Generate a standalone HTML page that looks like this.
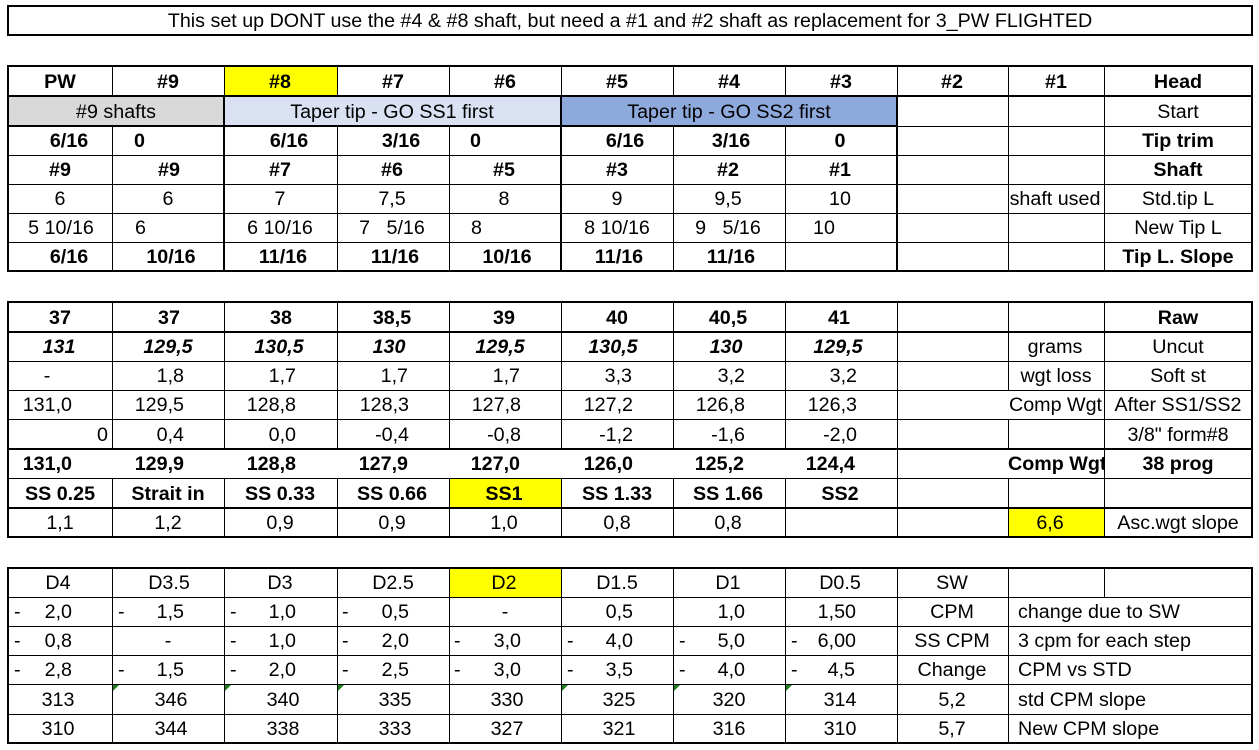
<!DOCTYPE html>
<html>
<head>
<meta charset="utf-8">
<style>
html,body{margin:0;padding:0;background:#fff;}
#w{position:relative;width:1259px;height:750px;overflow:hidden;background:#fff;font-family:"Liberation Sans",Arial,sans-serif;font-size:19.7px;color:#000;}
#w div{position:absolute;}
.h{background:#000;height:1px;}
.H{background:#000;height:2px;}
.v{background:#000;width:1px;}
.V{background:#000;width:2px;}
.c{width:300px;text-align:center;white-space:pre;}
.r{width:300px;text-align:right;white-space:pre;}
.l{white-space:pre;}
.b{font-weight:bold;}
.i{font-style:italic;}
.a1{top:67px;line-height:30px;height:30px}
.a2{top:97px;line-height:30px;height:30px}
.a3{top:127px;line-height:29px;height:29px}
.a4{top:156px;line-height:29px;height:29px}
.a5{top:185px;line-height:29px;height:29px}
.a6{top:214px;line-height:29px;height:29px}
.a7{top:243px;line-height:29px;height:29px}
.b1{top:303px;line-height:30px;height:30px}
.b2{top:333px;line-height:29px;height:29px}
.b3{top:362px;line-height:29px;height:29px}
.b4{top:391px;line-height:29px;height:29px}
.b5{top:420px;line-height:30px;height:30px}
.b6{top:450px;line-height:29px;height:29px}
.b7{top:479px;line-height:30px;height:30px}
.b8{top:509px;line-height:29px;height:29px}
.d1{top:569px;line-height:29px;height:29px}
.d2{top:598px;line-height:29px;height:29px}
.d3{top:627px;line-height:29px;height:29px}
.d4{top:656px;line-height:29px;height:29px}
.d5{top:685px;line-height:30px;height:30px}
.d6{top:715px;line-height:29px;height:29px}
.tri{width:0;height:0;border-top:6px solid #1f7f1f;border-right:6px solid transparent;}
</style>
</head>
<body>
<div id="w">

<!-- Title -->
<div style="left:7px;top:5px;width:1246px;height:31px;border:2px solid #000;box-sizing:border-box;"></div>
<div style="left:8px;top:7px;width:1244px;line-height:29px;text-align:center;white-space:pre;">This set up DONT use the #4 &amp; #8 shaft, but need a #1 and #2 shaft as replacement for 3_PW FLIGHTED</div>

<!-- ===== TABLE 1 backgrounds ===== -->
<div style="left:224px;top:66px;width:113px;height:30px;background:#ffff00;"></div>
<div style="left:8px;top:96px;width:216px;height:30px;background:#d9d9d9;"></div>
<div style="left:224px;top:96px;width:337px;height:30px;background:#d9e1f2;"></div>
<div style="left:561px;top:96px;width:336px;height:30px;background:#8ea9db;"></div>

<!-- Table 1 horizontal lines -->
<div class="H" style="left:7px;top:65px;width:1246px;"></div>
<div class="H" style="left:7px;top:95px;width:1246px;"></div>
<div class="H" style="left:7px;top:125px;width:891px;"></div>
<div class="h" style="left:897px;top:126px;width:355px;"></div>
<div class="h" style="left:8px;top:155px;width:1244px;"></div>
<div class="h" style="left:8px;top:184px;width:1244px;"></div>
<div class="h" style="left:8px;top:213px;width:1244px;"></div>
<div class="h" style="left:8px;top:242px;width:1244px;"></div>
<div class="H" style="left:7px;top:270px;width:1246px;"></div>
<!-- Table 1 outer verticals -->
<div class="V" style="left:7px;top:65px;height:207px;"></div>
<div class="V" style="left:1251px;top:65px;height:207px;"></div>
<!-- Row1 verticals -->
<div class="v" style="left:112px;top:66px;height:30px;"></div>
<div class="v" style="left:224px;top:66px;height:30px;"></div>
<div class="v" style="left:337px;top:66px;height:30px;"></div>
<div class="v" style="left:449px;top:66px;height:30px;"></div>
<div class="v" style="left:561px;top:66px;height:30px;"></div>
<div class="v" style="left:673px;top:66px;height:30px;"></div>
<div class="v" style="left:785px;top:66px;height:30px;"></div>
<div class="v" style="left:897px;top:66px;height:30px;"></div>
<div class="v" style="left:1008px;top:66px;height:30px;"></div>
<div class="v" style="left:1104px;top:66px;height:30px;"></div>
<!-- Rows 2-7 verticals -->
<div class="V" style="left:223px;top:96px;height:175px;"></div>
<div class="V" style="left:560px;top:96px;height:175px;"></div>
<div class="V" style="left:896px;top:96px;height:175px;"></div>
<div class="v" style="left:1008px;top:96px;height:175px;"></div>
<div class="v" style="left:1104px;top:96px;height:175px;"></div>
<div class="v" style="left:112px;top:126px;height:145px;"></div>
<div class="v" style="left:337px;top:126px;height:145px;"></div>
<div class="v" style="left:449px;top:126px;height:145px;"></div>
<div class="v" style="left:673px;top:126px;height:145px;"></div>
<div class="v" style="left:785px;top:126px;height:145px;"></div>

<!-- Table 1 text -->
<div class="c b a1" style="left:-90px">PW</div>
<div class="c b a1" style="left:18px">#9</div>
<div class="c b a1" style="left:130px">#8</div>
<div class="c b a1" style="left:243px">#7</div>
<div class="c b a1" style="left:355px">#6</div>
<div class="c b a1" style="left:467px">#5</div>
<div class="c b a1" style="left:579px">#4</div>
<div class="c b a1" style="left:691px">#3</div>
<div class="c b a1" style="left:802px">#2</div>
<div class="c b a1" style="left:906px">#1</div>
<div class="c b a1" style="left:1028px">Head</div>

<div class="c a2" style="left:-34px">#9 shafts</div>
<div class="c a2" style="left:242px">Taper tip - GO SS1 first</div>
<div class="c a2" style="left:579px">Taper tip - GO SS2 first</div>
<div class="c a2" style="left:1028px">Start</div>

<div class="c b a3" style="left:-81px">6/16</div>
<div class="l b a3" style="left:134px">0</div>
<div class="c b a3" style="left:139px">6/16</div>
<div class="c b a3" style="left:251px">3/16</div>
<div class="l b a3" style="left:470px">0</div>
<div class="c b a3" style="left:475px">6/16</div>
<div class="c b a3" style="left:581px">3/16</div>
<div class="c b a3" style="left:690px">0</div>
<div class="c b a3" style="left:1028px">Tip trim</div>

<div class="c b a4" style="left:-90px">#9</div>
<div class="c b a4" style="left:19px">#9</div>
<div class="c b a4" style="left:130px">#7</div>
<div class="c b a4" style="left:242px">#6</div>
<div class="c b a4" style="left:354px">#5</div>
<div class="c b a4" style="left:467px">#3</div>
<div class="c b a4" style="left:578px">#2</div>
<div class="c b a4" style="left:690px">#1</div>
<div class="c b a4" style="left:1028px">Shaft</div>

<div class="c a5" style="left:-90px">6</div>
<div class="c a5" style="left:18px">6</div>
<div class="c a5" style="left:130px">7</div>
<div class="c a5" style="left:242px">7,5</div>
<div class="c a5" style="left:354px">8</div>
<div class="c a5" style="left:467px">9</div>
<div class="c a5" style="left:578px">9,5</div>
<div class="c a5" style="left:690px">10</div>
<div class="c a5" style="left:905px">shaft used</div>
<div class="c a5" style="left:1028px">Std.tip L</div>

<div class="c a6" style="left:-89px">5 10/16</div>
<div class="l a6" style="left:135px">6</div>
<div class="c a6" style="left:130px">6 10/16</div>
<div class="c a6" style="left:242px">7   5/16</div>
<div class="l a6" style="left:471px">8</div>
<div class="c a6" style="left:467px">8 10/16</div>
<div class="c a6" style="left:578px">9   5/16</div>
<div class="l a6" style="left:813px">10</div>
<div class="c a6" style="left:1028px">New Tip L</div>

<div class="c b a7" style="left:-81px">6/16</div>
<div class="c b a7" style="left:21px">10/16</div>
<div class="c b a7" style="left:133px">11/16</div>
<div class="c b a7" style="left:245px">11/16</div>
<div class="c b a7" style="left:357px">10/16</div>
<div class="c b a7" style="left:469px">11/16</div>
<div class="c b a7" style="left:581px">11/16</div>
<div class="c b a7" style="left:1028px">Tip L. Slope</div>

<!-- ===== TABLE 2 ===== -->
<div style="left:449px;top:478px;width:112px;height:30px;background:#ffff00;"></div>
<div style="left:1008px;top:508px;width:96px;height:29px;background:#ffff00;"></div>

<div class="H" style="left:7px;top:301px;width:1246px;"></div>
<div class="H" style="left:7px;top:331px;width:1246px;"></div>
<div class="h" style="left:8px;top:361px;width:1244px;"></div>
<div class="h" style="left:8px;top:390px;width:1244px;"></div>
<div class="h" style="left:8px;top:419px;width:1244px;"></div>
<div class="H" style="left:7px;top:448px;width:1246px;"></div>
<div class="h" style="left:8px;top:478px;width:1244px;"></div>
<div class="H" style="left:7px;top:507px;width:1246px;"></div>
<div class="H" style="left:7px;top:536px;width:1246px;"></div>
<div class="V" style="left:7px;top:301px;height:237px;"></div>
<div class="V" style="left:1251px;top:301px;height:237px;"></div>

<div class="v" style="left:112px;top:302px;height:147px;"></div>
<div class="v" style="left:224px;top:302px;height:147px;"></div>
<div class="v" style="left:337px;top:302px;height:147px;"></div>
<div class="v" style="left:449px;top:302px;height:147px;"></div>
<div class="v" style="left:561px;top:302px;height:147px;"></div>
<div class="v" style="left:673px;top:302px;height:147px;"></div>
<div class="v" style="left:785px;top:302px;height:147px;"></div>
<div class="v" style="left:112px;top:478px;height:59px;"></div>
<div class="v" style="left:224px;top:478px;height:59px;"></div>
<div class="v" style="left:337px;top:478px;height:59px;"></div>
<div class="v" style="left:449px;top:478px;height:59px;"></div>
<div class="v" style="left:561px;top:478px;height:59px;"></div>
<div class="v" style="left:673px;top:478px;height:59px;"></div>
<div class="v" style="left:785px;top:478px;height:59px;"></div>
<div class="v" style="left:897px;top:302px;height:235px;"></div>
<div class="v" style="left:1104px;top:302px;height:235px;"></div>
<div class="v" style="left:1008px;top:302px;height:88px;"></div>
<div class="v" style="left:1008px;top:419px;height:30px;"></div>
<div class="v" style="left:1008px;top:478px;height:59px;"></div>

<div class="c b b1" style="left:-90px">37</div>
<div class="c b b1" style="left:19px">37</div>
<div class="c b b1" style="left:131px">38</div>
<div class="c b b1" style="left:242px">38,5</div>
<div class="c b b1" style="left:354px">39</div>
<div class="c b b1" style="left:467px">40</div>
<div class="c b b1" style="left:578px">40,5</div>
<div class="c b b1" style="left:689px">41</div>
<div class="c b b1" style="left:1028px">Raw</div>

<div class="c b i b2" style="left:-91px">131</div>
<div class="c b i b2" style="left:18px">129,5</div>
<div class="c b i b2" style="left:129px">130,5</div>
<div class="c b i b2" style="left:239px">130</div>
<div class="c b i b2" style="left:350px">129,5</div>
<div class="c b i b2" style="left:463px">130,5</div>
<div class="c b i b2" style="left:576px">130</div>
<div class="c b i b2" style="left:688px">129,5</div>
<div class="c b2" style="left:905px">grams</div>
<div class="c b2" style="left:1028px">Uncut</div>

<div class="c b3" style="left:-103px">-</div>
<div class="r b3" style="left:-116px">1,8</div>
<div class="r b3" style="left:-4px">1,7</div>
<div class="r b3" style="left:108px">1,7</div>
<div class="r b3" style="left:220px">1,7</div>
<div class="r b3" style="left:332px">3,3</div>
<div class="r b3" style="left:445px">3,2</div>
<div class="r b3" style="left:557px">3,2</div>
<div class="c b3" style="left:906px">wgt loss</div>
<div class="c b3" style="left:1028px">Soft st</div>

<div class="r b4" style="left:-228px">131,0</div>
<div class="r b4" style="left:-116px">129,5</div>
<div class="r b4" style="left:-4px">128,8</div>
<div class="r b4" style="left:109px">128,3</div>
<div class="r b4" style="left:221px">127,8</div>
<div class="r b4" style="left:333px">127,2</div>
<div class="r b4" style="left:445px">126,8</div>
<div class="r b4" style="left:557px">126,3</div>
<div class="l b4" style="left:1009px;width:95px;overflow:hidden;">Comp Wgt</div>
<div class="c b4" style="left:1028px">After SS1/SS2</div>

<div class="r b5" style="left:-192px">0</div>
<div class="r b5" style="left:-116px">0,4</div>
<div class="r b5" style="left:-4px">0,0</div>
<div class="r b5" style="left:109px">-0,4</div>
<div class="r b5" style="left:221px">-0,8</div>
<div class="r b5" style="left:333px">-1,2</div>
<div class="r b5" style="left:445px">-1,6</div>
<div class="r b5" style="left:557px">-2,0</div>
<div class="c b5" style="left:1028px">3/8" form#8</div>

<div class="r b b6" style="left:-228px">131,0</div>
<div class="r b b6" style="left:-116px">129,9</div>
<div class="r b b6" style="left:-4px">128,8</div>
<div class="r b b6" style="left:108px">127,9</div>
<div class="r b b6" style="left:220px">127,0</div>
<div class="r b b6" style="left:333px">126,0</div>
<div class="r b b6" style="left:444px">125,2</div>
<div class="r b b6" style="left:555px">124,4</div>
<div class="l b b6" style="left:1008px;width:96px;overflow:hidden;">Comp Wgt</div>
<div class="c b b6" style="left:1028px">38 prog</div>

<div class="c b b7" style="left:-90px">SS 0.25</div>
<div class="c b b7" style="left:18px">Strait in</div>
<div class="c b b7" style="left:130px">SS 0.33</div>
<div class="c b b7" style="left:242px">SS 0.66</div>
<div class="c b b7" style="left:354px">SS1</div>
<div class="c b b7" style="left:467px">SS 1.33</div>
<div class="c b b7" style="left:578px">SS 1.66</div>
<div class="c b b7" style="left:690px">SS2</div>

<div class="c b8" style="left:-90px">1,1</div>
<div class="c b8" style="left:18px">1,2</div>
<div class="c b8" style="left:130px">0,9</div>
<div class="c b8" style="left:242px">0,9</div>
<div class="c b8" style="left:354px">1,0</div>
<div class="c b8" style="left:467px">0,8</div>
<div class="c b8" style="left:578px">0,8</div>
<div class="c b8" style="left:900px">6,6</div>
<div class="c b8" style="left:1028px">Asc.wgt slope</div>

<!-- ===== TABLE 3 ===== -->
<div style="left:449px;top:568px;width:112px;height:29px;background:#ffff00;"></div>

<div class="H" style="left:7px;top:567px;width:1246px;"></div>
<div class="h" style="left:8px;top:597px;width:1244px;"></div>
<div class="h" style="left:8px;top:626px;width:1244px;"></div>
<div class="h" style="left:8px;top:655px;width:1244px;"></div>
<div class="h" style="left:8px;top:684px;width:1244px;"></div>
<div class="h" style="left:8px;top:714px;width:1244px;"></div>
<div class="H" style="left:7px;top:742px;width:1246px;"></div>
<div class="V" style="left:7px;top:567px;height:177px;"></div>
<div class="V" style="left:1251px;top:567px;height:177px;"></div>

<div class="v" style="left:112px;top:568px;height:175px;"></div>
<div class="v" style="left:224px;top:568px;height:175px;"></div>
<div class="v" style="left:337px;top:568px;height:175px;"></div>
<div class="v" style="left:449px;top:568px;height:175px;"></div>
<div class="v" style="left:561px;top:568px;height:175px;"></div>
<div class="v" style="left:673px;top:568px;height:175px;"></div>
<div class="v" style="left:785px;top:568px;height:175px;"></div>
<div class="v" style="left:897px;top:568px;height:175px;"></div>
<div class="v" style="left:1008px;top:568px;height:175px;"></div>
<div class="v" style="left:1104px;top:568px;height:29px;"></div>

<!-- green triangles -->
<div class="tri" style="left:113px;top:685px;"></div>
<div class="tri" style="left:225px;top:685px;"></div>
<div class="tri" style="left:338px;top:685px;"></div>
<div class="tri" style="left:562px;top:685px;"></div>
<div class="tri" style="left:674px;top:685px;"></div>
<div class="tri" style="left:786px;top:685px;"></div>

<div class="c d1" style="left:-92px">D4</div>
<div class="c d1" style="left:19px">D3.5</div>
<div class="c d1" style="left:130px">D3</div>
<div class="c d1" style="left:243px">D2.5</div>
<div class="c d1" style="left:354px">D2</div>
<div class="c d1" style="left:467px">D1.5</div>
<div class="c d1" style="left:578px">D1</div>
<div class="c d1" style="left:690px">D0.5</div>
<div class="c d1" style="left:802px">SW</div>

<div class="l d2" style="left:14px">-</div>
<div class="r d2" style="left:-228px">2,0</div>
<div class="l d2" style="left:118px">-</div>
<div class="r d2" style="left:-116px">1,5</div>
<div class="l d2" style="left:230px">-</div>
<div class="r d2" style="left:-4px">1,0</div>
<div class="l d2" style="left:342px">-</div>
<div class="r d2" style="left:109px">0,5</div>
<div class="c d2" style="left:355px">-</div>
<div class="r d2" style="left:333px">0,5</div>
<div class="r d2" style="left:445px">1,0</div>
<div class="r d2" style="left:556px">1,50</div>
<div class="c d2" style="left:802px">CPM</div>
<div class="l d2" style="left:1018px">change due to SW</div>

<div class="l d3" style="left:14px">-</div>
<div class="r d3" style="left:-228px">0,8</div>
<div class="c d3" style="left:18px">-</div>
<div class="l d3" style="left:230px">-</div>
<div class="r d3" style="left:-4px">1,0</div>
<div class="l d3" style="left:342px">-</div>
<div class="r d3" style="left:109px">2,0</div>
<div class="l d3" style="left:454px">-</div>
<div class="r d3" style="left:221px">3,0</div>
<div class="l d3" style="left:567px">-</div>
<div class="r d3" style="left:333px">4,0</div>
<div class="l d3" style="left:679px">-</div>
<div class="r d3" style="left:445px">5,0</div>
<div class="l d3" style="left:791px">-</div>
<div class="r d3" style="left:556px">6,00</div>
<div class="c d3" style="left:802px">SS CPM</div>
<div class="l d3" style="left:1018px">3 cpm for each step</div>

<div class="l d4" style="left:14px">-</div>
<div class="r d4" style="left:-228px">2,8</div>
<div class="l d4" style="left:118px">-</div>
<div class="r d4" style="left:-116px">1,5</div>
<div class="l d4" style="left:230px">-</div>
<div class="r d4" style="left:-4px">2,0</div>
<div class="l d4" style="left:342px">-</div>
<div class="r d4" style="left:109px">2,5</div>
<div class="l d4" style="left:454px">-</div>
<div class="r d4" style="left:221px">3,0</div>
<div class="l d4" style="left:567px">-</div>
<div class="r d4" style="left:333px">3,5</div>
<div class="l d4" style="left:679px">-</div>
<div class="r d4" style="left:445px">4,0</div>
<div class="l d4" style="left:791px">-</div>
<div class="r d4" style="left:555px">4,5</div>
<div class="c d4" style="left:802px">Change</div>
<div class="l d4" style="left:1018px">CPM vs STD</div>

<div class="c d5" style="left:-92px">313</div>
<div class="c d5" style="left:21px">346</div>
<div class="c d5" style="left:133px">340</div>
<div class="c d5" style="left:245px">335</div>
<div class="c d5" style="left:357px">330</div>
<div class="c d5" style="left:469px">325</div>
<div class="c d5" style="left:579px">320</div>
<div class="c d5" style="left:690px">314</div>
<div class="c d5" style="left:802px">5,2</div>
<div class="l d5" style="left:1018px">std CPM slope</div>

<div class="c d6" style="left:-92px">310</div>
<div class="c d6" style="left:21px">344</div>
<div class="c d6" style="left:133px">338</div>
<div class="c d6" style="left:245px">333</div>
<div class="c d6" style="left:357px">327</div>
<div class="c d6" style="left:469px">321</div>
<div class="c d6" style="left:579px">316</div>
<div class="c d6" style="left:690px">310</div>
<div class="c d6" style="left:802px">5,7</div>
<div class="l d6" style="left:1018px">New CPM slope</div>

</div>
</body>
</html>
